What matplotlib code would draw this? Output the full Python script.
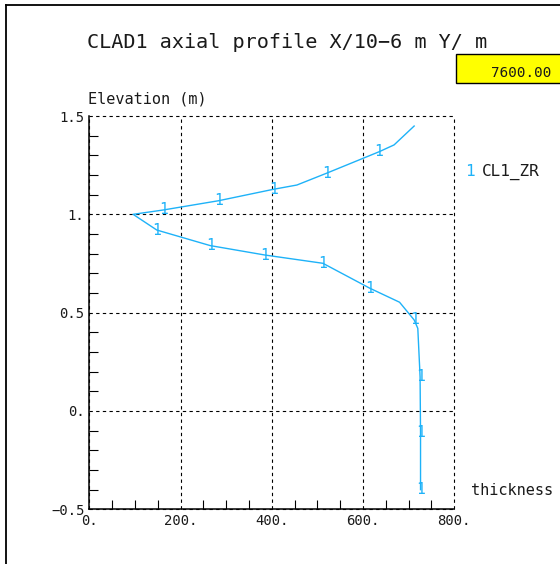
import matplotlib
matplotlib.use("Agg")
import matplotlib.pyplot as plt
from matplotlib.ticker import MultipleLocator, FixedLocator, FixedFormatter
from matplotlib.patches import Rectangle
from matplotlib.lines import Line2D

# ---- data (thickness in 1e-6 m, elevation in m) ----
thickness = [726, 726, 725, 724, 720, 712, 680, 615, 512, 385, 265, 148, 96,
             162, 283, 403, 455, 520, 635, 668, 712]
elevation = [-0.40, -0.112, 0.173, 0.225, 0.42, 0.463, 0.553, 0.624, 0.751,
             0.793, 0.841, 0.920, 1.0, 1.022, 1.069, 1.127, 1.149, 1.209,
             1.318, 1.353, 1.449]
marker_idx = [0, 1, 2, 5, 7, 8, 9, 10, 11, 13, 14, 15, 17, 18]

x_ticks = [0, 200, 400, 600, 800]
x_labels = ["0.", "200.", "400.", "600.", "800."]
y_ticks = [-0.5, 0.0, 0.5, 1.0, 1.5]
y_labels = ["\u22120.5", "0.", "0.5", "1.", "1.5"]

title = "CLAD1 axial profile X/10\u22126 m Y/ m"
time_value = "7600.00"
series_name = "CL1_ZR"
series_tag = "1"

CYAN = "#1eb2f8"
FONT = "DejaVu Sans Mono"
TXT = "#1a1a1a"

W, H = 560, 564
fig = plt.figure(figsize=(W / 100, H / 100), dpi=100)

ax = fig.add_axes([89.3 / W, 1 - 509.3 / H, (454.3 - 89.3) / W, (509.3 - 116) / H])
ax.set_xlim(0, 800)
ax.set_ylim(-0.5, 1.5)

ax.plot(thickness, elevation, color=CYAN, lw=1.0, zorder=3)
for i in marker_idx:
    ax.text(thickness[i], elevation[i], series_tag, color=CYAN, fontsize=10.5,
            family=FONT, ha="center", va="center", zorder=4)

ax.xaxis.set_major_locator(FixedLocator(x_ticks))
ax.xaxis.set_major_formatter(FixedFormatter(x_labels))
ax.yaxis.set_major_locator(FixedLocator(y_ticks))
ax.yaxis.set_major_formatter(FixedFormatter(y_labels))
ax.xaxis.set_minor_locator(MultipleLocator(50))
ax.yaxis.set_minor_locator(MultipleLocator(0.1))
ax.tick_params(which="major", length=0, labelsize=10, pad=3.5, labelcolor=TXT)
ax.tick_params(which="minor", direction="in", length=6.5, width=0.8, color="black")
for lab in ax.get_xticklabels() + ax.get_yticklabels():
    lab.set_family(FONT)

ax.grid(True, which="major", color="black", lw=0.8, linestyle=(0, (3, 3)))
for s in ["top", "right"]:
    ax.spines[s].set_visible(False)
for s in ["left", "bottom"]:
    ax.spines[s].set_linewidth(1.1)
for gl in ax.get_xgridlines() + ax.get_ygridlines():
    gl.set_clip_on(False)

# ---- texts ----
fig.text(87 / W, 1 - 48 / H, title, family=FONT, fontsize=14.5, va="baseline", ha="left", color=TXT)
fig.text(88 / W, 1 - 103 / H, "Elevation (m)", family=FONT, fontsize=11, va="baseline", ha="left", color=TXT)
fig.text(471 / W, 1 - 495 / H, "thickness", family=FONT, fontsize=11, va="baseline", ha="left", color=TXT)
fig.text(465 / W, 1 - 176 / H, series_tag, family=FONT, fontsize=11.5, color=CYAN,
         va="baseline", ha="left")
fig.text(482 / W, 1 - 176 / H, series_name, family=FONT, fontsize=11.5, va="baseline", ha="left", color=TXT)

# yellow time box
fig.patches.append(Rectangle((456 / W, 1 - 83 / H), 110 / W, 29 / H, transform=fig.transFigure,
                             facecolor="#ffff00", edgecolor="black", lw=1.0))
fig.text(551 / W, 1 - 77 / H, time_value, family=FONT, fontsize=10.3, va="baseline", ha="right", color=TXT)

# outer frame (left and top edges)
fig.lines.append(Line2D([5.5 / W, 5.5 / W], [0, 1 - 4.5 / H], transform=fig.transFigure,
                        color="black", lw=1.3))
fig.lines.append(Line2D([5.5 / W, 1], [1 - 4.5 / H, 1 - 4.5 / H], transform=fig.transFigure,
                        color="black", lw=1.3))

fig.savefig("out.png", dpi=100, facecolor="white")
